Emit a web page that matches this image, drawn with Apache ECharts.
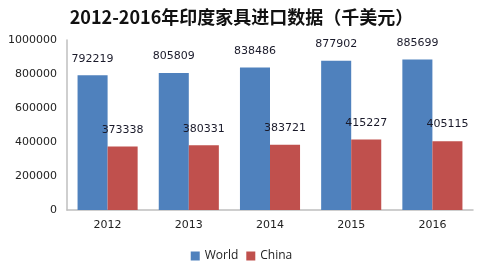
<!DOCTYPE html>
<html><head><meta charset="utf-8">
<script src="https://cdn.jsdelivr.net/npm/echarts@6/dist/echarts.min.js"></script>
<style>html,body{margin:0;padding:0;background:#fff}#c{width:483px;height:271px}</style>
</head><body><div id="c"></div>
<script>
const titleText = '2012-2016年印度家具进口数据（千美元）';
const categories = ['2012','2013','2014','2015','2016'];
const worldValues = [792219, 805809, 838486, 877902, 885699];
const chinaValues = [373338, 380331, 383721, 415227, 405115];

const chart = echarts.init(document.getElementById('c'));
const lbl = {show:true, position:'top', distance:11, color:'#1a1a2a', fontSize:11, fontFamily:'DejaVu Sans'};
chart.setOption({
  animation:false,
  title:{text:titleText, left:'center', top:3, textStyle:{fontSize:18, fontWeight:'bold', color:'#111', fontFamily:'Noto Sans CJK SC'}},
  legend:{bottom:4, left:'center', itemWidth:9, itemHeight:9, itemGap:8, icon:'rect',
    textStyle:{fontSize:12, color:'#222', fontFamily:'Open Sans'}, data:['World','China']},
  grid:{left:67, right:10, top:40, bottom:61},
  xAxis:{type:'category', data:categories,
    axisLine:{lineStyle:{color:'#bfbfbf', width:1.5}}, axisTick:{show:false},
    axisLabel:{color:'#222', fontSize:11, margin:10, fontFamily:'DejaVu Sans'}},
  yAxis:{type:'value', min:0, max:1000000, interval:200000,
    axisLine:{show:true, lineStyle:{color:'#bfbfbf', width:1.5}}, axisTick:{show:false},
    splitLine:{show:false},
    axisLabel:{color:'#222', fontSize:11, margin:10, fontFamily:'DejaVu Sans', formatter:v=>String(v)}},
  series:[
    {name:'World', type:'bar', data:worldValues, barGap:'0%', barCategoryGap:'26%',
     itemStyle:{color:'#4F81BD'}, label:lbl},
    {name:'China', type:'bar', data:chinaValues,
     itemStyle:{color:'#C0504D'}, label:lbl}
  ]
});
</script></body></html>
